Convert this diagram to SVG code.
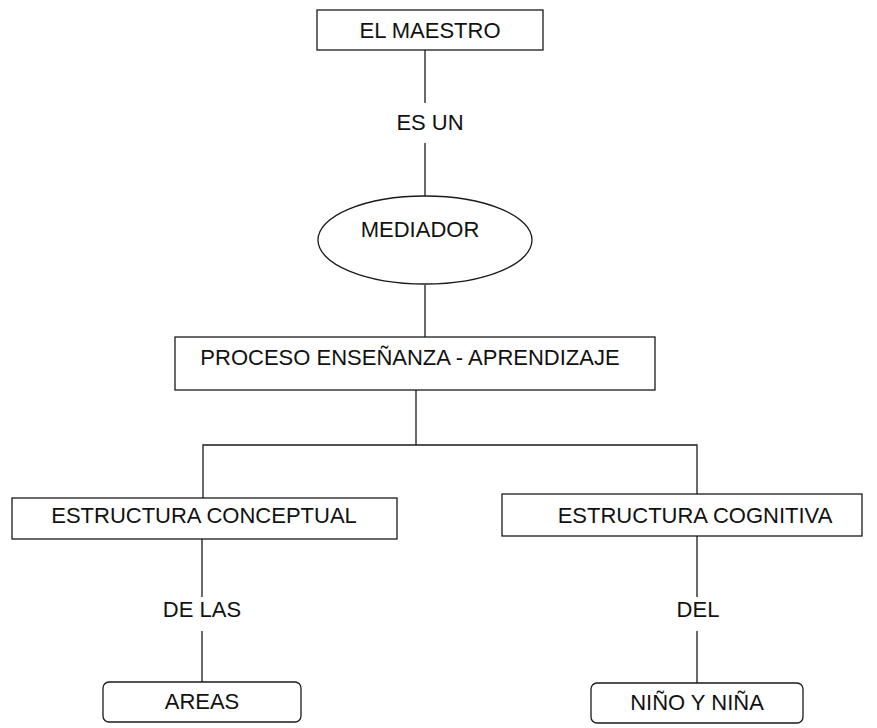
<svg xmlns="http://www.w3.org/2000/svg" width="877" height="728" viewBox="0 0 877 728">
<style>
.b{fill:#fff;stroke:#1a1a1a;stroke-width:1.3}
.c line,.c polyline{fill:none;stroke:#1a1a1a;stroke-width:1.3}
text{font-family:"Liberation Sans",Arial,sans-serif;font-size:22px;fill:#111;text-anchor:middle}
</style>
<rect width="877" height="728" fill="#fff"/>
<g class="c" id="connectors">
<line x1="425" y1="50" x2="425" y2="103"/>
<line x1="425" y1="143" x2="425" y2="196"/>
<line x1="425" y1="285" x2="425" y2="337"/>
<line x1="416" y1="390" x2="416" y2="445"/>
<polyline points="203,498 203,445 697,445 697,494"/>
<line x1="202" y1="539" x2="202" y2="597"/>
<line x1="202" y1="631" x2="202" y2="682"/>
<line x1="697" y1="536" x2="697" y2="597"/>
<line x1="697" y1="631" x2="697" y2="683"/>
<text x="430" y="130">ES UN</text>
<text x="202" y="617">DE LAS</text>
<text x="698" y="617">DEL</text>
</g>
<g id="maestro"><rect class="b" x="317" y="10" width="226" height="40"/><text x="430" y="38">EL MAESTRO</text></g>
<g id="mediador"><ellipse class="b" cx="425" cy="240" rx="107" ry="44"/><text x="420" y="237">MEDIADOR</text></g>
<g id="proceso"><rect class="b" x="175" y="337" width="480" height="53"/><text x="410" y="365">PROCESO ENSEÑANZA - APRENDIZAJE</text></g>
<g id="conceptual"><rect class="b" x="12" y="498" width="385" height="41"/><text x="204" y="523">ESTRUCTURA CONCEPTUAL</text></g>
<g id="cognitiva"><rect class="b" x="502" y="494" width="360" height="42"/><text x="695" y="523">ESTRUCTURA COGNITIVA</text></g>
<g id="areas"><rect class="b" x="103" y="682" width="198" height="40" rx="6"/><text x="202" y="709">AREAS</text></g>
<g id="nino"><rect class="b" x="591" y="683" width="212" height="40" rx="6"/><text x="697" y="710">NIÑO Y NIÑA</text></g>
</svg>
